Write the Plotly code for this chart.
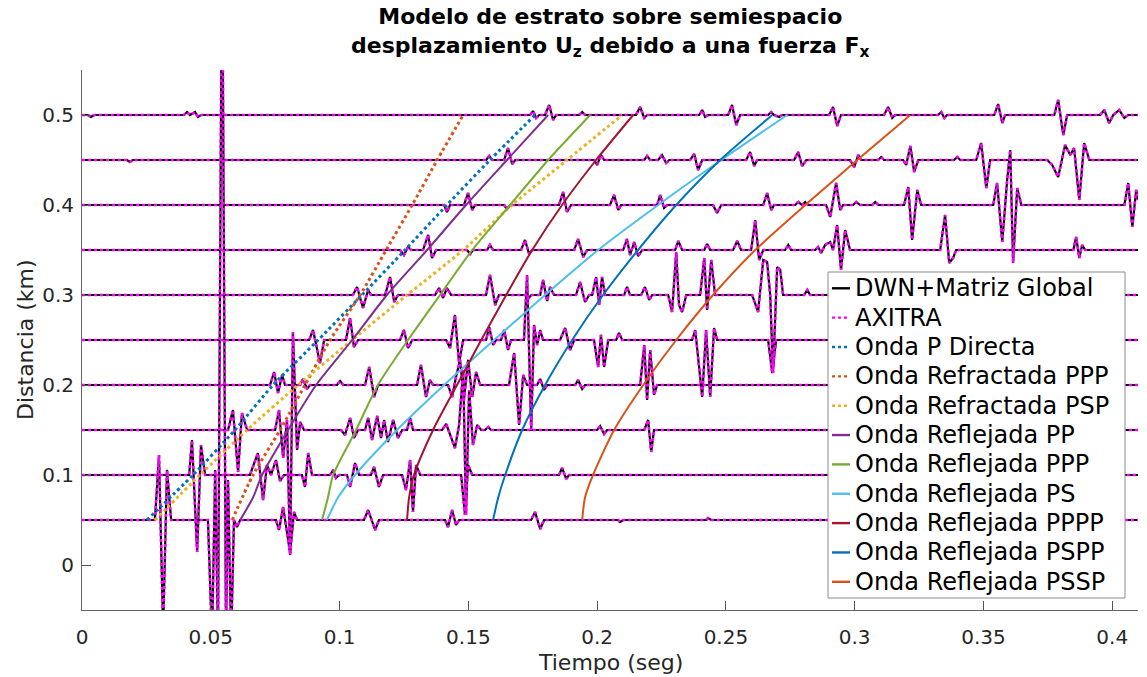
import plotly.graph_objects as go

# ---------------- DATOS ----------------
distancias = [0.05, 0.10, 0.15, 0.20, 0.25, 0.30, 0.35, 0.40, 0.45, 0.50]

# Sismogramas (tiempo en s, desplazamiento escalado en km respecto a la distancia del receptor)
traza_005 = [(0, 0), (0.0283, 0), (0.0299, 0.0722), (0.0315, -0.1222), (0.0330, 0.0556), (0.0346, 0),
             (0.0489, 0), (0.0505, -0.1333), (0.0517, 0.0556), (0.0528, -0.1333), (0.0544, 0.6667),
             (0.0559, -0.1333), (0.0567, 0.0444), (0.0579, -0.1333), (0.0590, 0), (0.0602, -0.0078),
             (0.0614, 0), (0.0753, 0), (0.0765, -0.0111), (0.0781, 0.0144), (0.0808, -0.0367),
             (0.0823, 0.0089), (0.0835, 0), (0.1095, 0), (0.1111, 0.0111), (0.1138, -0.0111),
             (0.1153, 0), (0.1410, 0), (0.1421, -0.0078), (0.1437, 0.0111), (0.1452, -0.0056),
             (0.1464, 0), (0.1744, 0), (0.1759, 0.0089), (0.1779, -0.0100), (0.1794, 0),
             (0.2082, 0), (0.2089, -0.0022), (0.2101, 0), (0.2423, 0), (0.2431, 0.0022),
             (0.2443, 0), (0.41, 0)]

traza_010 = [(0, 0), (0.0416, 0), (0.0427, 0.0389), (0.0447, -0.0856), (0.0462, 0.0333), (0.0478, 0),
             (0.0652, 0), (0.0664, 0.0089), (0.0683, 0.0244), (0.0703, -0.0278), (0.0718, 0.0111),
             (0.0734, 0), (0.0753, 0.0167), (0.0769, -0.0067), (0.0784, 0), (0.0854, 0),
             (0.0866, -0.0133), (0.0878, 0.0244), (0.0893, 0), (0.0963, 0), (0.0975, 0.0056),
             (0.0986, -0.0033), (0.0998, 0), (0.1029, 0), (0.1041, -0.0133), (0.1060, 0.0133),
             (0.1076, 0), (0.1122, 0), (0.1134, 0.0089), (0.1153, -0.0133), (0.1169, 0),
             (0.1243, 0), (0.1258, -0.0167), (0.1274, 0.0167), (0.1285, -0.0411), (0.1297, 0.0111),
             (0.1313, 0), (0.1472, 0), (0.1487, -0.0444), (0.1499, 0.0111), (0.1515, 0),
             (0.1852, 0), (0.1864, 0.0078), (0.1880, -0.0044), (0.1891, 0), (0.41, 0)]

traza_015 = [(0, 0), (0.0567, 0), (0.0586, 0.0222), (0.0606, -0.0467), (0.0621, 0.0189), (0.0641, 0),
             (0.0750, 0), (0.0765, 0.0222), (0.0781, -0.0311), (0.0796, 0.0111), (0.0808, -0.1389),
             (0.0819, 0.1089), (0.0835, -0.0222), (0.0847, 0.0089), (0.0862, 0), (0.1006, 0),
             (0.1021, -0.0056), (0.1041, 0.0133), (0.1056, -0.0089), (0.1072, 0), (0.1099, 0),
             (0.1111, 0.0133), (0.1126, -0.0111), (0.1146, 0.0156), (0.1161, -0.0089),
             (0.1173, 0.0111), (0.1188, -0.0133), (0.1208, 0.0111), (0.1227, -0.0089), (0.1243, 0),
             (0.1262, 0), (0.1274, 0.0133), (0.1285, 0), (0.1398, 0), (0.1414, 0.0067),
             (0.1429, -0.0056), (0.1448, -0.0200), (0.1464, 0.0056), (0.1480, 0.0667),
             (0.1491, -0.0944), (0.1503, 0.0444), (0.1518, -0.0167), (0.1534, 0.0056), (0.1550, 0),
             (0.1565, 0), (0.1577, 0.0033), (0.1588, 0), (0.2000, 0), (0.2012, 0.0044),
             (0.2027, -0.0044), (0.2039, 0), (0.2183, 0), (0.2198, 0.0111), (0.2210, -0.0244),
             (0.2221, 0), (0.41, 0)]

traza_020 = [(0, 0), (0.0730, 0), (0.0746, 0.0144), (0.0761, -0.0089), (0.0777, 0.0111), (0.0788, 0),
             (0.0847, 0), (0.0858, 0.0067), (0.0874, -0.0044), (0.0885, 0), (0.0990, 0),
             (0.1002, 0.0044), (0.1014, 0), (0.1099, 0), (0.1115, 0.0200), (0.1134, -0.0133),
             (0.1150, 0), (0.1301, 0), (0.1316, 0.0222), (0.1336, -0.0133), (0.1351, 0.0056),
             (0.1363, 0), (0.1421, 0), (0.1437, -0.0133), (0.1452, 0.0089), (0.1468, 0.0278),
             (0.1483, -0.0167), (0.1499, 0.0278), (0.1515, -0.0133), (0.1530, 0.0144), (0.1546, 0),
             (0.1658, 0), (0.1678, 0.0356), (0.1697, -0.0444), (0.1713, 0.0111), (0.1728, 0),
             (0.1767, 0), (0.1779, 0.0067), (0.1794, -0.0056), (0.1806, 0), (0.1915, 0),
             (0.1926, 0.0056), (0.1942, -0.0044), (0.1953, 0), (0.2167, 0), (0.2183, 0.0444),
             (0.2194, -0.0167), (0.2206, 0.0389), (0.2221, -0.0111), (0.2233, 0), (0.41, 0)]

traza_025 = [(0, 0), (0.0882, 0), (0.0897, 0.0111), (0.0924, -0.0256), (0.0940, 0), (0.1025, 0),
             (0.1041, 0.0244), (0.1056, -0.0078), (0.1072, 0), (0.1235, 0), (0.1250, 0.0111),
             (0.1266, -0.0089), (0.1282, 0), (0.1414, 0), (0.1429, -0.0089), (0.1448, 0.0278),
             (0.1464, -0.0256), (0.1480, 0), (0.1569, 0), (0.1581, 0.0144), (0.1596, -0.0056),
             (0.1608, 0), (0.1627, 0), (0.1639, 0.0111), (0.1654, -0.0111), (0.1666, 0),
             (0.1716, 0), (0.1728, 0.0722), (0.1744, -0.1000), (0.1755, 0.0167), (0.1767, -0.0056),
             (0.1779, 0.0111), (0.1790, 0), (0.1856, 0), (0.1876, 0.0133), (0.1895, -0.0111),
             (0.1911, 0), (0.1988, 0), (0.2004, -0.0300), (0.2015, 0.0056), (0.2027, -0.0300),
             (0.2043, 0), (0.2074, 0), (0.2085, 0.0078), (0.2097, 0), (0.2369, 0),
             (0.2381, 0.0111), (0.2408, -0.0633), (0.2423, 0.0111), (0.2439, -0.0633),
             (0.2454, 0.0133), (0.2466, 0), (0.2664, 0), (0.2680, -0.0367), (0.2695, 0), (0.41, 0)]

traza_030 = [(0, 0), (0.1052, 0), (0.1068, 0.0089), (0.1091, -0.0144), (0.1111, 0.0056), (0.1122, 0),
             (0.1177, 0), (0.1196, 0.0200), (0.1212, -0.0078), (0.1227, 0), (0.1371, 0),
             (0.1386, 0.0078), (0.1402, -0.0033), (0.1417, 0.0078), (0.1433, 0), (0.1569, 0),
             (0.1584, 0.0222), (0.1604, -0.0111), (0.1619, 0), (0.1724, 0), (0.1732, -0.0044),
             (0.1744, 0), (0.1779, 0), (0.1790, 0.0167), (0.1806, -0.0067), (0.1817, 0.0089),
             (0.1833, 0), (0.1918, 0), (0.1934, 0.0144), (0.1953, -0.0078), (0.1969, 0),
             (0.1981, 0), (0.1996, 0.0200), (0.2008, -0.0111), (0.2019, 0.0200), (0.2031, 0),
             (0.2105, 0), (0.2116, 0.0089), (0.2128, 0), (0.2171, 0), (0.2186, 0.0089),
             (0.2202, -0.0056), (0.2214, 0), (0.2276, 0), (0.2291, -0.0189), (0.2307, 0.0478),
             (0.2318, -0.0111), (0.2330, -0.0189), (0.2346, 0), (0.2400, 0), (0.2416, 0.0411),
             (0.2427, -0.0167), (0.2443, 0.0389), (0.2458, 0), (0.2602, 0), (0.2625, -0.0189),
             (0.2645, 0.0389), (0.2660, 0.0367), (0.2672, 0), (0.2683, -0.0867), (0.2699, 0.0311),
             (0.2711, 0.0278), (0.2722, 0), (0.2804, 0), (0.2816, 0.0056), (0.2827, 0), (0.41, 0)]

traza_035 = [(0, 0), (0.1235, 0), (0.1250, -0.0056), (0.1266, 0.0033), (0.1278, 0), (0.1324, 0),
             (0.1344, 0.0167), (0.1359, -0.0089), (0.1375, 0), (0.1495, 0), (0.1507, -0.0044),
             (0.1518, 0), (0.1573, 0), (0.1584, 0.0056), (0.1596, 0), (0.1705, 0), (0.1720, 0.0111),
             (0.1736, -0.0044), (0.1748, 0), (0.1911, 0), (0.1926, 0.0122), (0.1946, -0.0078),
             (0.1961, 0), (0.2101, 0), (0.2116, 0.0122), (0.2128, -0.0056), (0.2144, 0.0089),
             (0.2159, -0.0067), (0.2175, 0), (0.2303, 0), (0.2315, 0.0100), (0.2330, 0),
             (0.2416, 0), (0.2427, 0.0067), (0.2439, 0), (0.2528, 0), (0.2544, 0.0100),
             (0.2559, 0), (0.2598, 0), (0.2614, 0.0333), (0.2629, -0.0111), (0.2645, 0),
             (0.2730, 0), (0.2742, 0.0056), (0.2753, 0), (0.2847, 0), (0.2858, 0.0033),
             (0.2870, -0.0033), (0.2885, 0.0056), (0.2905, 0.0089), (0.2916, 0), (0.2932, 0.0278),
             (0.2947, -0.0222), (0.2963, 0.0222), (0.2982, 0), (0.3332, 0), (0.3351, 0.0389),
             (0.3367, -0.0144), (0.3382, -0.0089), (0.3394, 0), (0.3849, 0), (0.3860, 0.0144),
             (0.3872, -0.0089), (0.3883, 0.0056), (0.3895, 0), (0.41, 0)]

traza_040 = [(0, 0), (0.1406, 0), (0.1417, -0.0078), (0.1429, 0), (0.1483, 0), (0.1499, 0.0133),
             (0.1515, -0.0056), (0.1526, 0), (0.1639, 0), (0.1650, -0.0044), (0.1662, 0),
             (0.1852, 0), (0.1868, 0.0144), (0.1883, -0.0078), (0.1899, 0), (0.2050, 0),
             (0.2066, 0.0111), (0.2082, -0.0056), (0.2093, 0), (0.2233, 0), (0.2245, 0.0111),
             (0.2260, -0.0033), (0.2272, 0), (0.2450, 0), (0.2466, -0.0089), (0.2482, 0),
             (0.2645, 0), (0.2660, 0.0133), (0.2676, -0.0056), (0.2687, 0), (0.2769, 0),
             (0.2781, 0.0033), (0.2796, 0), (0.2808, 0.0033), (0.2819, 0), (0.2889, 0),
             (0.2905, -0.0133), (0.2928, 0.0244), (0.2944, -0.0056), (0.2955, 0), (0.2994, 0),
             (0.3006, 0.0033), (0.3021, 0), (0.3068, 0), (0.3080, 0.0033), (0.3091, 0),
             (0.3192, 0), (0.3208, 0.0200), (0.3223, -0.0389), (0.3243, 0.0167), (0.3258, 0),
             (0.3538, 0), (0.3553, 0.0244), (0.3573, -0.0411), (0.3592, 0.0278), (0.3604, 0.0611),
             (0.3615, -0.0644), (0.3631, 0.0189), (0.3647, 0), (0.4047, 0), (0.4062, 0.0244),
             (0.4078, -0.0244), (0.4093, 0.0167), (0.41, 0.0056)]

traza_045 = [(0, 0), (0.0175, 0), (0.0186, -0.0022), (0.0198, 0), (0.1569, 0), (0.1581, 0.0044),
             (0.1592, 0), (0.1639, 0), (0.1654, 0.0133), (0.1670, -0.0044), (0.1682, 0),
             (0.1988, 0), (0.2000, -0.0056), (0.2015, 0.0056), (0.2027, 0), (0.2183, 0),
             (0.2194, 0.0044), (0.2206, 0), (0.2237, 0), (0.2252, 0.0056), (0.2268, -0.0033),
             (0.2280, 0), (0.2361, 0), (0.2377, 0.0067), (0.2392, -0.0111), (0.2408, 0),
             (0.2579, 0), (0.2594, 0.0089), (0.2610, -0.0067), (0.2621, 0), (0.2765, 0),
             (0.2781, 0.0089), (0.2796, -0.0067), (0.2812, 0), (0.2982, 0), (0.2998, -0.0078),
             (0.3014, 0.0056), (0.3025, 0), (0.3091, 0), (0.3103, 0.0033), (0.3114, 0),
             (0.3188, 0), (0.3200, -0.0056), (0.3216, 0.0156), (0.3231, -0.0133), (0.3247, 0),
             (0.3386, 0), (0.3398, 0.0033), (0.3410, 0), (0.3472, 0), (0.3491, 0.0189),
             (0.3511, -0.0311), (0.3526, 0), (0.3748, 0), (0.3767, -0.0056), (0.3790, -0.0189),
             (0.3817, 0.0167), (0.3837, 0.0056), (0.3852, 0.0133), (0.3872, -0.0444),
             (0.3891, 0.0189), (0.3911, 0), (0.41, 0)]

traza_050 = [(0, 0), (0.0023, 0), (0.0035, -0.0022), (0.0047, 0), (0.0396, 0), (0.0408, 0.0033),
             (0.0419, 0), (0.0439, 0.0033), (0.0450, -0.0022), (0.0462, 0), (0.1740, 0),
             (0.1751, 0.0044), (0.1763, -0.0033), (0.1775, 0), (0.1798, 0), (0.1814, 0.0111),
             (0.1829, -0.0056), (0.1841, 0), (0.1930, 0), (0.1942, 0.0033), (0.1953, 0),
             (0.2151, 0), (0.2167, 0.0089), (0.2183, -0.0033), (0.2194, 0), (0.2396, 0),
             (0.2408, 0.0056), (0.2419, -0.0022), (0.2431, 0), (0.2509, 0), (0.2524, 0.0111),
             (0.2540, -0.0111), (0.2555, 0), (0.2664, 0), (0.2676, 0.0033), (0.2687, 0),
             (0.2707, -0.0022), (0.2718, 0), (0.2901, 0), (0.2916, 0.0089), (0.2932, -0.0122),
             (0.2947, 0), (0.3114, 0), (0.3130, 0.0089), (0.3146, -0.0033), (0.3157, 0),
             (0.3324, 0), (0.3336, 0.0033), (0.3348, -0.0033), (0.3359, 0), (0.3542, 0),
             (0.3557, 0.0122), (0.3573, -0.0089), (0.3584, 0), (0.3775, 0), (0.3790, 0.0167),
             (0.3810, -0.0222), (0.3825, 0), (0.3953, 0), (0.3969, 0.0056), (0.3988, -0.0089),
             (0.4004, 0), (0.4027, 0.0056), (0.4047, -0.0033), (0.4062, 0), (0.41, 0)]

trazas = [traza_005, traza_010, traza_015, traza_020, traza_025,
          traza_030, traza_035, traza_040, traza_045, traza_050]

# Tiempos de llegada (s) leidos para cada distancia (km)
dist_refr = [0.05, 0.10, 0.15, 0.20, 0.25, 0.30, 0.35, 0.40, 0.45, 0.50]
t_p_directa = [0.0252, 0.0431, 0.0594, 0.0742, 0.0917, 0.1087, 0.1254, 0.1417, 0.1584, 0.1759]
t_refr_ppp = [0.0583, 0.0664, 0.0769, 0.0866, 0.0963, 0.1080, 0.1181, 0.1282, 0.1379, 0.1480]
t_refr_psp = [0.0283, 0.0458, 0.0641, 0.0839, 0.1049, 0.1262, 0.1480, 0.1670, 0.1883, 0.2097]

dist_refl = [0.05, 0.075, 0.10, 0.15, 0.20, 0.25, 0.30, 0.35, 0.40, 0.45, 0.50]
t_refl_pp = [0.0614, 0.0664, 0.0699, 0.0800, 0.0909, 0.1049, 0.1184, 0.1340, 0.1491, 0.1650, 0.1810]
t_refl_ppp = [0.0932, 0.0955, 0.0975, 0.1064, 0.1149, 0.1266, 0.1390, 0.1515, 0.1662, 0.1810, 0.1973]
t_refl_ps = [0.0951, 0.0994, 0.1060, 0.1223, 0.1406, 0.1600, 0.1798, 0.2004, 0.2237, 0.2482, 0.2738]
t_refl_pppp = [0.1262, 0.1270, 0.1289, 0.1363, 0.1456, 0.1550, 0.1647, 0.1748, 0.1864, 0.1996, 0.2140]
t_refl_pspp = [0.1596, 0.1616, 0.1643, 0.1709, 0.1798, 0.1903, 0.2023, 0.2159, 0.2307, 0.2478, 0.2680]
t_refl_pssp = [0.1942, 0.1953, 0.1984, 0.2066, 0.2179, 0.2307, 0.2450, 0.2614, 0.2808, 0.3010, 0.3216]

x_ticks = [0, 0.05, 0.1, 0.15, 0.2, 0.25, 0.3, 0.35, 0.4]
x_ticktext = ['0', '0.05', '0.1', '0.15', '0.2', '0.25', '0.3', '0.35', '0.4']
y_ticks = [0, 0.1, 0.2, 0.3, 0.4, 0.5]
y_ticktext = ['0', '0.1', '0.2', '0.3', '0.4', '0.5']

# ---------------- FIGURA ----------------
FONT = 'DejaVu Sans'
fig = go.Figure()

xs, ys = [], []
for d, tr in zip(distancias, trazas):
    for t, u in tr:
        xs.append(t)
        ys.append(d + u)
    xs.append(None)
    ys.append(None)

fig.add_trace(go.Scatter(x=xs, y=ys, mode='lines', name='DWN+Matriz Global',
                         line=dict(color='black', width=2.2), showlegend=False, hoverinfo='skip'))
fig.add_trace(go.Scatter(x=xs, y=ys, mode='lines', name='AXITRA',
                         line=dict(color='#FF00FF', width=2.6, dash='3px,3px'),
                         showlegend=False, hoverinfo='skip'))

curvas = [
    ('Onda P Directa', dist_refr, t_p_directa, '#0072BD', 'dot'),
    ('Onda Refractada PPP', dist_refr, t_refr_ppp, '#D95319', 'dot'),
    ('Onda Refractada PSP', dist_refr, t_refr_psp, '#EDB120', 'dot'),
    ('Onda Reflejada PP', dist_refl, t_refl_pp, '#7E2F8E', 'solid'),
    ('Onda Reflejada PPP', dist_refl, t_refl_ppp, '#77AC30', 'solid'),
    ('Onda Reflejada PS', dist_refl, t_refl_ps, '#4DBEEE', 'solid'),
    ('Onda Reflejada PPPP', dist_refl, t_refl_pppp, '#A2142F', 'solid'),
    ('Onda Reflejada PSPP', dist_refl, t_refl_pspp, '#0072BD', 'solid'),
    ('Onda Reflejada PSSP', dist_refl, t_refl_pssp, '#D95319', 'solid'),
]
for nombre, dist, tiempos, color, estilo in curvas:
    fig.add_trace(go.Scatter(x=tiempos, y=dist, mode='lines', name=nombre, showlegend=False,
                             line=dict(color=color, width=3 if estilo == 'dot' else 2,
                                       dash=estilo, shape='spline', smoothing=0.7),
                             hoverinfo='skip'))

# ----- leyenda dibujada (estilo MATLAB) -----
L, T, W, H = 82, 70, 1056, 540   # area del grafico en px


def px(xp):
    return (xp - L) / W


def py(yp):
    return (T + H - yp) / H


entradas = [('DWN+Matriz Global', 'black', 'solid'), ('AXITRA', '#FF00FF', 'dot')] + \
           [(c[0], c[3], c[4]) for c in curvas]

shapes = [dict(type='rect', xref='paper', yref='paper', x0=px(828), x1=px(1125),
               y0=py(598), y1=py(272), line=dict(color='#8c8c8c', width=1), fillcolor='white',
               layer='above')]
annotations = []
for i, (nombre, color, estilo) in enumerate(entradas):
    yc = 288.3 + i * 29.35
    shapes.append(dict(type='line', xref='paper', yref='paper', x0=px(832), x1=px(850),
                       y0=py(yc), y1=py(yc), layer='above',
                       line=dict(color=color, width=2.4, dash='dot' if estilo == 'dot' else 'solid')))
    annotations.append(dict(text=nombre, xref='paper', yref='paper', x=px(853), y=py(yc),
                            xanchor='left', yanchor='middle', showarrow=False,
                            font=dict(family=FONT, size=24, color='black')))

# titulo y titulos de ejes
annotations.append(dict(text='<b>Modelo de estrato sobre semiespacio<br>'
                             'desplazamiento U<sub>z</sub> debido a una fuerza F<sub>x</sub></b>',
                        xref='paper', yref='paper', x=px(610), y=py(2), xanchor='center',
                        yanchor='top', showarrow=False, align='center',
                        font=dict(family=FONT, size=22, color='black')))
annotations.append(dict(text='Tiempo (seg)', xref='paper', yref='paper', x=0.5, y=py(662),
                        xanchor='center', yanchor='middle', showarrow=False,
                        font=dict(family=FONT, size=22, color='#262626')))
annotations.append(dict(text='Distancia (km)', xref='paper', yref='paper', x=px(25), y=0.5,
                        xanchor='center', yanchor='middle', showarrow=False, textangle=-90,
                        font=dict(family=FONT, size=22, color='#262626')))

fig.update_layout(
    width=1147, height=677,
    margin=dict(l=L, r=1147 - L - W, t=T, b=677 - T - H),
    paper_bgcolor='white', plot_bgcolor='white',
    xaxis=dict(range=[0, 0.41], tickvals=x_ticks, ticktext=x_ticktext, ticks='inside',
               ticklen=9, tickcolor='#555555', showline=True, linecolor='#666666', linewidth=1,
               showgrid=False, zeroline=False, ticklabelstandoff=9,
               tickfont=dict(family=FONT, size=20, color='#262626')),
    yaxis=dict(range=[-0.05, 0.55], tickvals=y_ticks, ticktext=y_ticktext, ticks='inside',
               ticklen=9, tickcolor='#555555', showline=True, linecolor='#666666', linewidth=1,
               showgrid=False, zeroline=False, ticklabelstandoff=3,
               tickfont=dict(family=FONT, size=20, color='#262626')),
    shapes=shapes, annotations=annotations, showlegend=False,
)

fig.write_html('out.html')
